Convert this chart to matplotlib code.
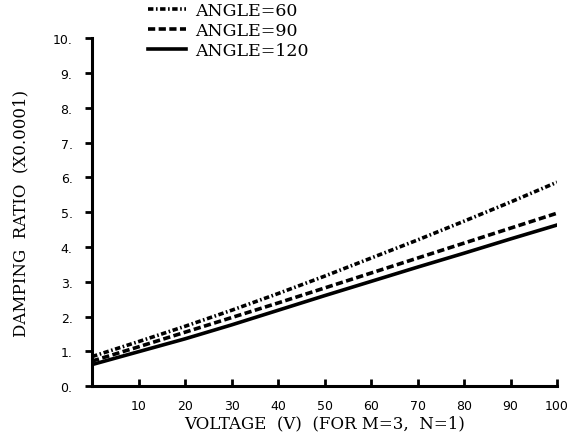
#!/usr/bin/env python3
"""Damping ratio vs voltage for several angles"""
import matplotlib
matplotlib.use('Agg')
import matplotlib.pyplot as plt

voltage = [0, 10, 20, 30, 40, 50, 60, 70, 80, 90, 100]
angle_60 = [0.85, 1.28, 1.72, 2.18, 2.66, 3.16, 3.68, 4.20, 4.74, 5.29, 5.86]
angle_90 = [0.72, 1.13, 1.55, 1.97, 2.39, 2.82, 3.25, 3.68, 4.11, 4.54, 4.97]
angle_120 = [0.62, 0.99, 1.36, 1.76, 2.18, 2.60, 3.01, 3.42, 3.82, 4.23, 4.63]

x_ticks = [10, 20, 30, 40, 50, 60, 70, 80, 90, 100]
y_ticks = [0, 1, 2, 3, 4, 5, 6, 7, 8, 9, 10]

serif = 'DejaVu Serif'

fig = plt.figure(figsize=(5.79, 4.35), dpi=100)
ax = fig.add_axes([0.159, 0.110, 0.803, 0.800])

l1, = ax.plot(voltage, angle_60, color='black', linewidth=2.6,
              linestyle=(0, (1.5, 0.7, 0.45, 0.7)), label='ANGLE=60')
l2, = ax.plot(voltage, angle_90, color='black', linewidth=2.6,
              linestyle=(0, (2.0, 0.95)), label='ANGLE=90')
l3, = ax.plot(voltage, angle_120, color='black', linewidth=2.6,
              linestyle='-', label='ANGLE=120')

ax.set_xlim(0, 100)
ax.set_ylim(0, 10)
ax.set_xticks(x_ticks)
ax.set_xticklabels([str(t) for t in x_ticks], fontsize=9, family='DejaVu Sans')
ax.set_yticks(y_ticks)
ax.set_yticklabels([f'{t}.' for t in y_ticks], fontsize=9, family='DejaVu Sans')
ax.tick_params(axis='x', direction='in', length=5, width=2, pad=9)
ax.tick_params(axis='y', direction='out', length=5, width=2, pad=9)

for side in ['top', 'right']:
    ax.spines[side].set_visible(False)
for side in ['left', 'bottom']:
    ax.spines[side].set_linewidth(2.2)

ax.set_xlabel('VOLTAGE  (V)  (FOR M=3,  N=1)', fontsize=12,
              family=serif, labelpad=2)
ax.set_ylabel('DAMPING  RATIO  (X0.0001)', fontsize=12,
              family=serif, labelpad=17)

fig.legend(handles=[l1, l2, l3], loc='upper left', bbox_to_anchor=(0.229, 1.028),
           frameon=False, handlelength=2.2, handletextpad=0.5, labelspacing=0.17,
           prop={'family': serif, 'size': 12.5})

plt.savefig('out.png', dpi=100)
plt.close()
